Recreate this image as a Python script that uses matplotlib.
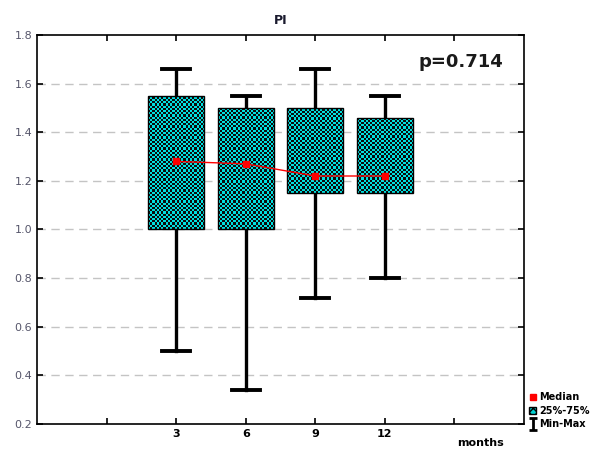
import numpy as np
import matplotlib
matplotlib.use("Agg")
import matplotlib.pyplot as plt
from matplotlib.patches import Rectangle, Patch
from matplotlib.lines import Line2D
from matplotlib.path import Path

# box plot summary values
months = ["3", "6", "9", "12"]
q1 = [1.00, 1.00, 1.15, 1.15]
q3 = [1.55, 1.50, 1.50, 1.46]
mins = [0.50, 0.34, 0.72, 0.80]
maxs = [1.66, 1.55, 1.66, 1.55]
medians = [1.28, 1.27, 1.22, 1.22]
p_text = "p=0.714"

positions = [2, 3, 4, 5]
box_w = 0.8
cap_w = 0.4

fig = plt.figure(figsize=(5.98, 4.54), dpi=100)
ax = fig.add_axes([0.062, 0.066, 0.814, 0.857])
ax.set_xlim(0, 7)
ax.set_ylim(0.2, 1.8)

# grid
for yv in [0.4, 0.6, 0.8, 1.0, 1.2, 1.4, 1.6]:
    ax.axhline(yv, color="#c4c4c4", linestyle=(0, (6, 4)), linewidth=1, zorder=0)

# checker pattern image for boxes
cell_x = 7 / 487 * 2.2
cell_y = 1.6 / 389 * 2.2
for x, lo, hi in zip(positions, q1, q3):
    left = x - box_w / 2
    nx = int(np.ceil(box_w / cell_x))
    ny = int(np.ceil((hi - lo) / cell_y))
    chk = (np.add.outer(np.arange(ny), np.arange(nx)) % 2).astype(float)
    rgb = np.zeros((ny, nx, 3))
    rgb[chk == 0] = [0.0, 0.88, 0.88]
    rgb[chk == 1] = [0.05, 0.05, 0.05]
    im = ax.imshow(rgb, extent=[left, left + nx * cell_x, lo, lo + ny * cell_y],
                   origin="lower", aspect="auto", interpolation="nearest", zorder=2)
    rect = Rectangle((left, lo), box_w, hi - lo, facecolor="none",
                     edgecolor="black", linewidth=1.0, zorder=3)
    ax.add_patch(rect)
    im.set_clip_path(rect)

# whiskers
for x, lo, hi, mn, mx in zip(positions, q1, q3, mins, maxs):
    ax.plot([x, x], [hi, mx], color="black", linewidth=2.4, zorder=1)
    ax.plot([x, x], [mn, lo], color="black", linewidth=2.4, zorder=1)
    ax.plot([x - cap_w / 2, x + cap_w / 2], [mx, mx], color="black", linewidth=2.8, zorder=1)
    ax.plot([x - cap_w / 2, x + cap_w / 2], [mn, mn], color="black", linewidth=2.8, zorder=1)

# medians
ax.plot(positions, medians, color="red", linewidth=1, marker="s", markersize=4, zorder=4)

ax.set_xticks([1, 2, 3, 4, 5, 6])
ax.set_xticklabels([""] + months + [""], fontweight="bold", fontsize=8)
ax.set_yticks([0.2, 0.4, 0.6, 0.8, 1.0, 1.2, 1.4, 1.6, 1.8])
ax.set_yticklabels(["0.2", "0.4", "0.6", "0.8", "1.0", "1.2", "1.4", "1.6", "1.8"],
                   fontsize=8, color="#55556a")
ax.tick_params(direction="in", top=True, right=True, length=4, width=1.2)
for s in ax.spines.values():
    s.set_linewidth(1.2)

ax.set_title("PI", fontsize=9, fontweight="bold", pad=8, color="#1a1a2e")
ax.text(0.87, 0.93, p_text, transform=ax.transAxes, ha="center", va="center",
        fontsize=13, fontweight="bold", color="#1a1a1a")
ax.text(6.38, -0.035, "months", transform=ax.get_xaxis_transform(), ha="center",
        va="top", fontsize=8, fontweight="bold")

# I-beam marker for the min-max legend entry
ibeam = Path([(-0.6, -1), (0.6, -1), (0, -1), (0, 1), (-0.6, 1), (0.6, 1)],
             [Path.MOVETO, Path.LINETO, Path.MOVETO, Path.LINETO, Path.MOVETO, Path.LINETO])

handles = [
    Line2D([], [], color="red", marker="s", linestyle="none", markersize=4),
    Patch(facecolor="#00d0d0", edgecolor="black", hatch="xxxx"),
    Line2D([], [], color="black", marker=ibeam, linestyle="none", markersize=9,
           markeredgewidth=2),
]
fig.legend(handles, ["Median", "25%-75%", "Min-Max"], loc="lower left",
           bbox_to_anchor=(0.884, 0.055), frameon=False,
           handlelength=0.8, handletextpad=0.3, labelspacing=0.35,
           borderaxespad=0, borderpad=0,
           prop={"weight": "bold", "size": 7})

fig.savefig("out.png", dpi=100)
